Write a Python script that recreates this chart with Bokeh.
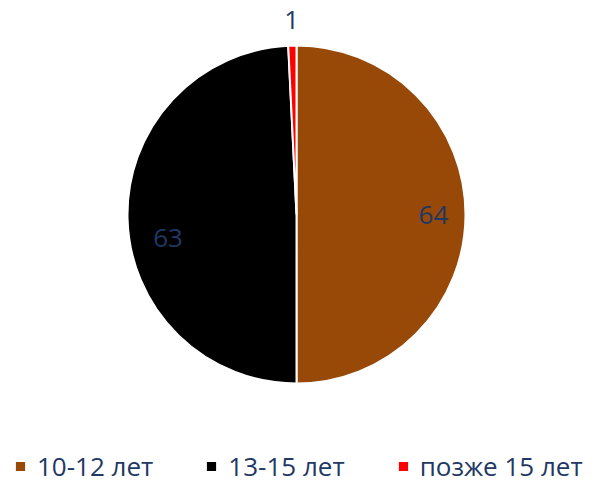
import numpy as np
from bokeh.plotting import figure
from bokeh.models import Range1d, ColumnDataSource, Legend, LegendItem
from bokeh.core.properties import value
from bokeh.embed import file_html
from bokeh.resources import INLINE

# ---- data ----
categories = ["10-12 лет", "13-15 лет", "позже 15 лет"]
values = [64, 63, 1]
colors = ["#984807", "#000000", "#FF0000"]

# ---- layout / style ----
CX, CY, R = 296, 270, 169
label_r = [0.81, 0.76, 1.15]
label_yoff = [0, 20, 0]
TEXT_COLOR = "#1F3864"
FONT = "Open Sans"

total = sum(values)
cum = np.cumsum([0] + values)
k = 2 * np.pi / total
start = np.pi / 2 - cum[1:] * k
end = np.pi / 2 - cum[:-1] * k
mid = (start + end) / 2

src = ColumnDataSource(dict(cat=categories, val=values, color=colors,
                            start=start, end=end))

p = figure(width=592, height=484, x_range=Range1d(0, 592), y_range=Range1d(0, 484),
           output_backend="svg", toolbar_location=None, min_border=0,
           outline_line_color=None)
p.axis.visible = False
p.grid.visible = False
p.background_fill_color = "white"
p.border_fill_color = "white"

w = p.wedge(x=CX, y=CY, radius=R, start_angle="start", end_angle="end",
            fill_color="color", line_color="white", line_width=2, source=src)

lr = np.array(label_r) * R
lsrc = ColumnDataSource(dict(x=CX + lr * np.cos(mid), y=CY + lr * np.sin(mid),
                             t=[str(v) for v in values], yo=label_yoff))
p.text(x="x", y="y", text="t", y_offset="yo", source=lsrc,
       text_font=value(FONT), text_font_size="26px", text_color=TEXT_COLOR,
       text_align="center", text_baseline="middle")

items = [LegendItem(label=c, renderers=[w], index=i) for i, c in enumerate(categories)]
legend = Legend(items=items, orientation="horizontal", location=(13, 0),
                glyph_width=14, glyph_height=14, label_standoff=10, spacing=51,
                padding=0, margin=0, border_line_alpha=0, background_fill_alpha=0,
                label_text_font=FONT, label_text_font_size="26px",
                label_text_color=TEXT_COLOR, label_text_baseline="middle")
p.add_layout(legend, "center")

open("out.html", "w").write(file_html(p, INLINE))
